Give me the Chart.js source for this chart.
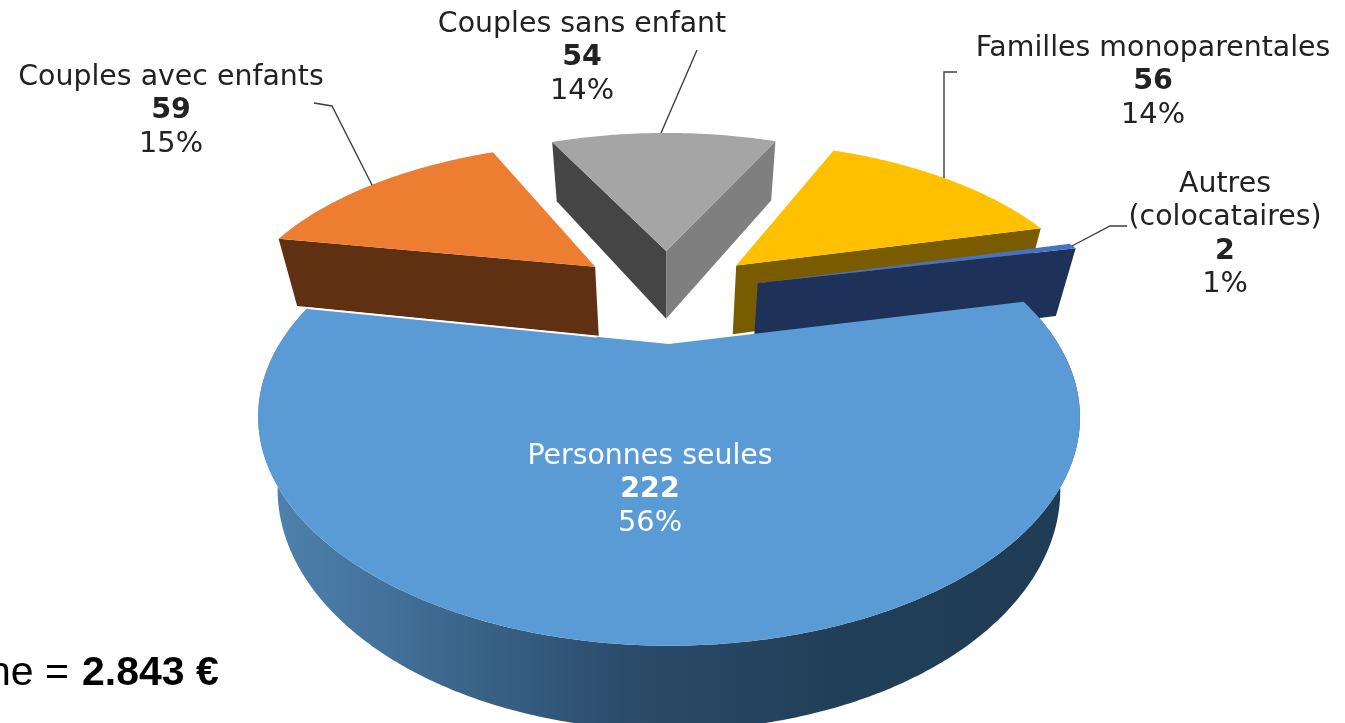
<!DOCTYPE html>
<html lang="fr"><head><meta charset="utf-8">
<style>html,body{margin:0;padding:0;background:#fff;overflow:hidden}canvas{display:block}</style>
<script src="https://cdn.jsdelivr.net/npm/chart.js@4"></script>
</head><body><canvas id="c" width="1345" height="723"></canvas>
<script>
const categories = ['Personnes seules','Couples avec enfants','Couples sans enfant','Familles monoparentales','Autres (colocataires)'];
const householdCounts = [222,59,54,56,2];
const percentLabels = ['56%','15%','14%','14%','1%'];
const topColors = ['#5b9bd5','#ed7d31','#a5a5a5','#ffc000','#4472c4'];
const startWallColors = [null,'#5f3112','#454545',null,null];
const endWallColors = [null,null,'#7f7f7f','#7a5c00','#1e3158'];
const labelLines = [['Personnes seules'],['Couples avec enfants'],['Couples sans enfant'],['Familles monoparentales'],['Autres','(colocataires)']];
const labelAnchors = [[650,456.5,'#fff'],[171,77.5,'#222'],[582,24.5,'#222'],[1153,48.5,'#222'],[1225,184.5,'#222']];
const leaderLines = [
  null,
  [[314,103],[332,106],[372,185]],
  [[697,50],[661,133]],
  [[957,72],[944,72],[944,178]],
  [[1127,226],[1110,226],[1072,246]]
];
const drawOrder = [1,2,3,4,0];
const view = {cx:667,y0:345,A:390,b:206,p:0.32,h:78,r:0.06,frontH:75,frontR:0.045,explode:0.265,centerY:-0.27};
const FONT = '"DejaVu Sans", Verdana, sans-serif';

function project(X,Y,Z,front){
  const r = front ? view.frontR : view.r, h = front ? view.frontH : view.h;
  const d = 1 - view.p*Y + r*Z;
  return [view.cx + view.A*X/d, view.y0 + (view.b*Y + h*Z)/d];
}
function sliceGeom(el,front){
  const mid=(el.startAngle+el.endAngle)/2;
  const ox=view.explode*Math.cos(mid), oy=view.centerY+view.explode*Math.sin(mid);
  return {
    apex:z=>project(ox,oy,z,front),
    rim:(t,z)=>project(ox+Math.cos(t),oy+Math.sin(t),z,front),
    rimPts(z){const n=Math.max(3,Math.ceil((el.endAngle-el.startAngle)/0.01));const a=[];
      for(let i=0;i<=n;i++){a.push(this.rim(el.startAngle+(el.endAngle-el.startAngle)*i/n,z));}return a;}
  };
}
function poly(ctx,pts,fill){
  ctx.beginPath();pts.forEach((p,i)=>i?ctx.lineTo(p[0],p[1]):ctx.moveTo(p[0],p[1]));ctx.closePath();
  ctx.fillStyle=fill;ctx.fill();
}
const pie3d = {
  id:'pie3d',
  beforeDatasetDraw(chart,args){
    const ctx=chart.ctx, arcs=args.meta.data;
    ctx.save();
    drawOrder.forEach(i=>{
      const el=arcs[i], g=sliceGeom(el,i===0);
      if(startWallColors[i]) poly(ctx,[g.apex(0),g.rim(el.startAngle,0),g.rim(el.startAngle,1),g.apex(1)],startWallColors[i]);
      if(endWallColors[i]) poly(ctx,[g.apex(0),g.rim(el.endAngle,0),g.rim(el.endAngle,1),g.apex(1)],endWallColors[i]);
      if(i===0){
        const grad=ctx.createLinearGradient(258,0,1080,0);
        grad.addColorStop(0,'#4f83b0');grad.addColorStop(0.15,'#43729b');grad.addColorStop(0.45,'#2b4b6a');grad.addColorStop(0.7,'#223f59');grad.addColorStop(1,'#203c54');
        poly(ctx,g.rimPts(0).concat(g.rimPts(1).reverse()),grad);
      }
      poly(ctx,[g.apex(0)].concat(g.rimPts(0)),el.options.backgroundColor);
      if(i===0){
        const a=g.apex(0),b=g.rim(el.endAngle,0);
        ctx.beginPath();ctx.moveTo(a[0]+(b[0]-a[0])*0.2,a[1]+(b[1]-a[1])*0.2);ctx.lineTo(b[0],b[1]);
        ctx.strokeStyle='#fff';ctx.lineWidth=1.6;ctx.stroke();
      }
    });
    ctx.restore();
    return false;
  },
  afterDraw(chart){
    const ctx=chart.ctx;
    ctx.save();
    ctx.strokeStyle='#3a3f48';ctx.lineWidth=1.4;
    leaderLines.forEach(l=>{ if(!l)return; ctx.beginPath();l.forEach((p,i)=>i?ctx.lineTo(p[0],p[1]):ctx.moveTo(p[0],p[1]));ctx.stroke(); });
    ctx.textAlign='center';ctx.textBaseline='middle';
    categories.forEach((_,i)=>{
      const [x,y0,col]=labelAnchors[i]; let y=y0;
      ctx.fillStyle=col;
      ctx.font='28.4px '+FONT;
      labelLines[i].forEach(t=>{ctx.fillText(t,x,y);y+=33.5;});
      ctx.font='bold 28.5px '+FONT;ctx.fillText(String(householdCounts[i]),x,y);y+=33.5;
      ctx.font='28.8px '+FONT;ctx.fillText(percentLabels[i],x,y);
    });
    ctx.textAlign='left';ctx.textBaseline='alphabetic';ctx.fillStyle='#000';
    ctx.font='41px "Liberation Sans", Arial, sans-serif';
    ctx.fillText('ne =',-12,685);
    ctx.font='bold 41px "Liberation Sans", Arial, sans-serif';
    ctx.fillText('2.843 €',82,685);
    ctx.restore();
  }
};
new Chart(document.getElementById('c'),{
  type:'pie',
  data:{labels:categories,datasets:[{data:householdCounts,backgroundColor:topColors,borderWidth:0}]},
  options:{responsive:false,animation:false,rotation:77.3,
    plugins:{legend:{display:false},tooltip:{enabled:false}}},
  plugins:[pie3d]
});
</script></body></html>
